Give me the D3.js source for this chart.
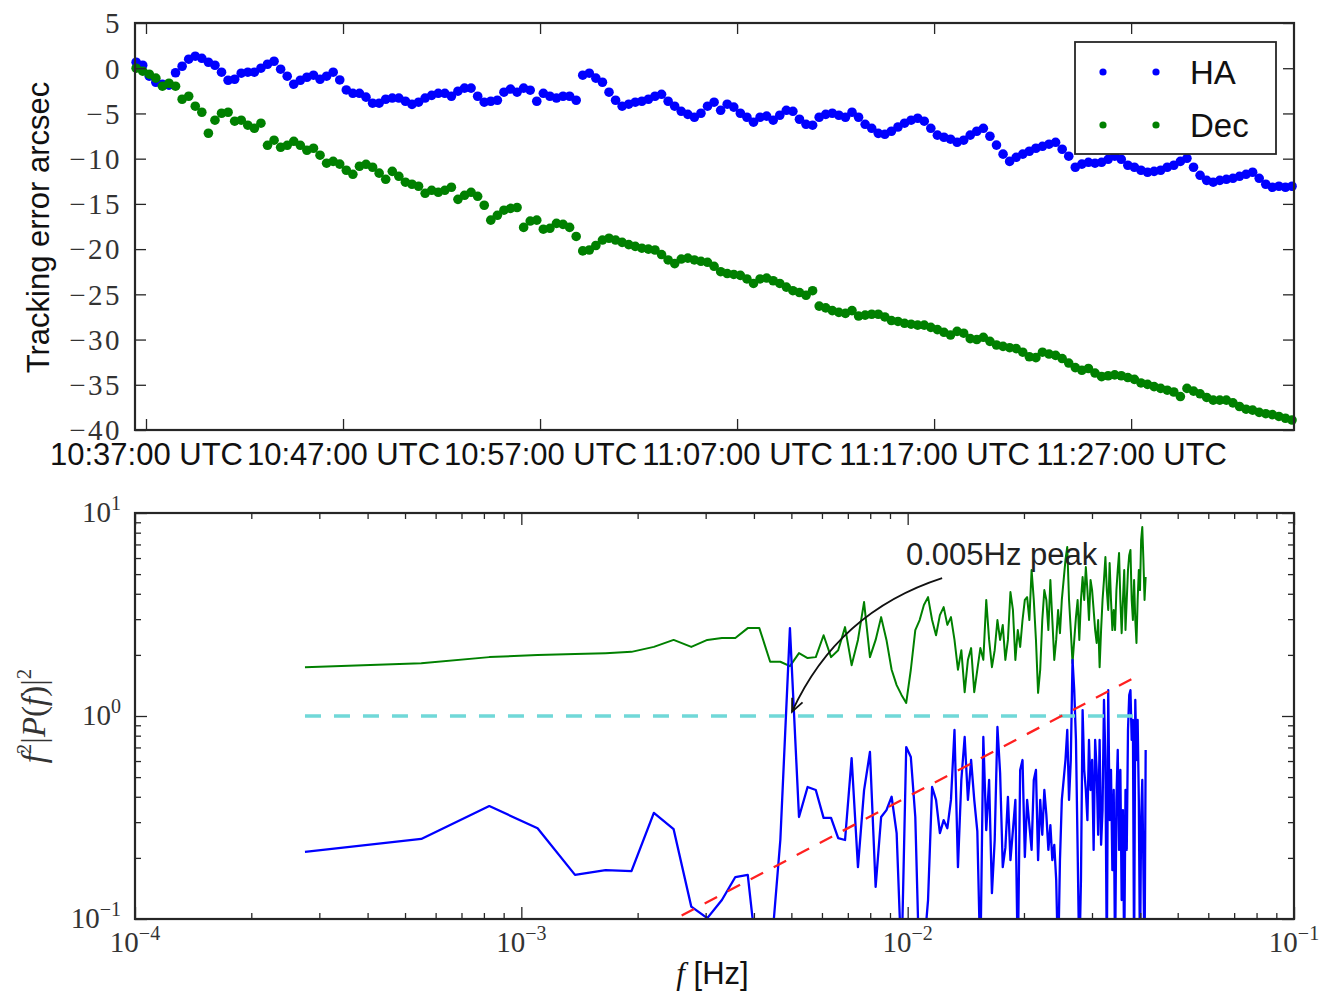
<!DOCTYPE html>
<html><head><meta charset="utf-8">
<script src="https://cdn.jsdelivr.net/npm/d3@7"></script>
<style>
body{margin:0;background:#fff;}
svg{display:block;}
</style></head><body>
<svg id="chart" width="1337" height="993"></svg>
<script>
// ---------------- DATA ----------------
// Top panel: tracking error (arcsec), sampled every 20 s starting 10:36:30 UTC
const sampleStart = "10:36:30";
const sampleStepSec = 20;
const timeDomain = ["10:36:26.5", "11:35:16"];
const timeTicks = ["10:37:00", "10:47:00", "10:57:00", "11:07:00", "11:17:00", "11:27:00"];
const errorTicks = [5, 0, -5, -10, -15, -20, -25, -30, -35, -40];
const seriesNames = ["HA", "Dec"];

const haValues = [
 0.66, 0.33, -0.88, -1.55, -1.77, -1.88, -0.5, 0.22, 1.0, 1.33,
 1.1, 0.66, 0.33, -0.44, -1.33, -1.22, -0.55, -0.44, -0.44, 0.0,
 0.44, 0.77, -0.11, -0.88, -1.77, -1.33, -1.0, -0.77, -1.22, -0.88,
 -0.44, -1.3, -2.4, -2.77, -2.77, -3.2, -3.87, -3.87, -3.43, -3.3,
 -3.3, -3.65, -4.0, -3.76, -3.3, -3.0, -2.77, -2.77, -3.1, -2.54,
 -2.2, -2.2, -3.1, -3.76, -3.65, -3.54, -2.65, -2.3, -2.65, -2.2,
 -2.43, -3.65, -2.77, -3.1, -3.3, -3.1, -3.1, -3.54, -0.77, -0.55,
 -1.1, -1.55, -2.65, -3.54, -4.2, -3.98, -3.76, -3.65, -3.43, -3.1,
 -2.88, -3.65, -4.2, -4.76, -5.1, -5.42, -4.98, -4.2, -3.76, -4.65,
 -3.98, -4.3, -4.98, -5.42, -5.97, -5.42, -5.3, -5.75, -5.2, -4.65,
 -4.76, -5.64, -6.2, -6.3, -5.42, -5.1, -4.98, -5.2, -5.42, -4.87,
 -5.42, -6.2, -6.64, -7.2, -7.3, -6.97, -6.5, -6.08, -5.75, -5.53,
 -5.86, -6.64, -7.4, -7.63, -7.85, -8.19, -7.96, -7.4, -6.97, -6.64,
 -7.52, -8.5, -9.5, -10.3, -9.85, -9.5, -9.18, -8.85, -8.63, -8.4,
 -8.19, -8.96, -9.73, -10.95, -10.6, -10.4, -10.5, -10.4, -10.07, -9.73,
 -10.07, -10.73, -10.95, -11.28, -11.5, -11.4, -11.28, -10.95, -10.73, -10.3,
 -9.96, -10.95, -11.84, -12.4, -12.6, -12.4, -12.28, -12.17, -11.95, -11.73,
 -11.5, -12.17, -12.83, -13.16, -13.05, -13.16, -13.05
];
const decValues = [
 0.0, -0.33, -0.66, -1.1, -1.99, -1.66, -1.99, -3.43, -3.1, -4.2,
 -4.87, -7.19, -5.75, -4.98, -4.87, -5.86, -5.75, -6.3, -6.64, -6.08,
 -8.52, -7.96, -8.74, -8.52, -8.08, -8.52, -9.07, -8.85, -9.62, -10.5,
 -10.3, -10.6, -11.28, -11.73, -10.84, -10.62, -10.95, -11.6, -12.28, -11.4,
 -11.95, -12.6, -12.83, -13.05, -13.83, -13.5, -13.72, -13.5, -13.16, -14.5,
 -14.05, -13.72, -14.16, -15.15, -16.8, -16.26, -15.7, -15.5, -15.4, -17.6,
 -16.9, -16.8, -17.8, -17.7, -17.15, -17.26, -17.6, -18.6, -20.2, -20.1,
 -19.6, -19.0, -18.8, -19.0, -19.25, -19.5, -19.7, -19.9, -20.0, -20.1,
 -20.6, -21.2, -21.6, -21.1, -21.0, -21.2, -21.35, -21.46, -21.9, -22.5,
 -22.7, -22.8, -22.9, -23.3, -23.8, -23.3, -23.2, -23.5, -23.8, -24.2,
 -24.6, -24.8, -25.1, -24.6, -26.3, -26.5, -26.8, -27.0, -27.1, -26.8,
 -27.4, -27.3, -27.2, -27.2, -27.5, -27.9, -28.0, -28.2, -28.3, -28.4,
 -28.4, -28.65, -28.9, -29.2, -29.5, -29.1, -29.3, -29.9, -30.0, -29.75,
 -30.2, -30.6, -30.75, -30.9, -31.0, -31.4, -31.9, -32.0, -31.4, -31.6,
 -31.75, -32.1, -32.6, -33.1, -33.4, -33.2, -33.7, -34.1, -34.0, -33.9,
 -34.0, -34.2, -34.4, -34.8, -34.95, -35.2, -35.4, -35.6, -35.8, -36.3,
 -35.4, -35.7, -36.0, -36.4, -36.7, -36.7, -36.7, -37.0, -37.4, -37.7,
 -37.8, -38.05, -38.2, -38.3, -38.5, -38.7, -38.9
];

// Bottom panel: f^2 |P(f)|^2 at frequencies k * freqStep (k = 1..150)
const freqStep = 2.754e-4;
const freqDomain = [1e-4, 1e-1];
const powerDomain = [1e-1, 1e1];
const haPower = [
 0.214, 0.248, 0.36, 0.28, 0.165, 0.174, 0.172, 0.333, 0.277, 0.115,
 0.101, 0.124, 0.161, 0.165, 0.05, 0.06, 0.245, 2.71, 0.318, 0.447,
 0.432, 0.315, 0.315, 0.25, 0.245, 0.62, 0.18, 0.43, 0.665, 0.144,
 0.318, 0.344, 0.4, 0.265, 0.06, 0.703, 0.628, 0.318, 0.05, 0.07,
 0.124, 0.447, 0.386, 0.265, 0.307, 0.28, 0.386, 0.853, 0.18, 0.484,
 0.788, 0.386, 0.607, 0.386, 0.27, 0.06, 0.788, 0.274, 0.484, 0.134,
 0.245, 0.883, 0.524, 0.18, 0.224, 0.4, 0.195, 0.274, 0.386, 0.06,
 0.542, 0.607, 0.202, 0.386, 0.29, 0.219, 0.484, 0.542, 0.195, 0.386,
 0.26, 0.432, 0.325, 0.219, 0.29, 0.195, 0.232, 0.156, 0.06, 0.195,
 0.386, 0.484, 0.607, 0.853, 0.386, 0.607, 1.89, 1.34, 0.762, 0.219,
 0.06, 0.156, 1.07, 0.542, 0.432, 0.307, 0.762, 0.432, 0.607, 0.219,
 0.762, 0.542, 0.26, 0.762, 0.232, 0.344, 1.2, 0.607, 0.06, 1.34,
 0.307, 0.542, 0.174, 0.432, 0.06, 0.386, 0.68, 0.219, 0.542, 0.124,
 0.344, 0.06, 0.432, 0.219, 0.853, 1.27, 1.34, 0.762, 0.956, 0.06,
 1.2, 0.607, 0.956, 0.386, 0.06, 0.307, 0.484, 0.174, 0.06, 0.68
];
const decPower = [
 1.74, 1.82, 1.95, 2.0, 2.02, 2.04, 2.07, 2.19, 2.37, 2.19,
 2.37, 2.42, 2.42, 2.71, 2.71, 1.85, 1.85, 1.76, 2.04, 1.93,
 1.95, 2.5, 1.95, 2.11, 2.74, 1.78, 2.37, 3.64, 1.95, 2.37,
 3.07, 2.37, 1.69, 1.42, 1.27, 1.16, 1.69, 2.65, 2.97, 3.52,
 3.85, 2.97, 2.5, 3.14, 3.44, 2.81, 3.07, 2.37, 1.69, 2.11,
 1.31, 1.89, 2.16, 1.31, 1.69, 2.16, 1.89, 3.73, 2.37, 1.74,
 2.11, 2.97, 2.37, 2.81, 1.89, 2.37, 4.08, 3.33, 1.89, 2.65,
 2.19, 2.97, 3.73, 3.85, 2.97, 5.24, 3.73, 2.37, 1.3, 1.69,
 2.97, 4.17, 3.73, 2.65, 4.68, 2.97, 1.89, 2.37, 3.33, 2.56,
 3.73, 4.68, 5.87, 6.8, 3.73, 2.65, 1.82, 2.37, 3.07, 3.73,
 2.37, 3.73, 4.84, 3.73, 5.42, 4.17, 2.97, 4.68, 4.17, 3.33,
 2.65, 2.29, 2.97, 1.74, 2.65, 3.73, 4.68, 6.07, 4.17, 3.33,
 5.67, 3.73, 2.65, 3.33, 2.65, 4.17, 5.24, 6.35, 3.73, 2.56,
 3.73, 5.24, 2.65, 3.73, 5.24, 6.2, 6.57, 3.73, 2.97, 4.68,
 2.97, 2.29, 3.73, 5.24, 4.17, 7.36, 8.53, 5.87, 3.73, 4.84
];
const unityLineF = [2.754e-4, 0.0385];
const unityLineV = [1, 1];
const slopeLineF = [0.0026, 0.040];
const slopeLineV = [0.104, 1.6];
const annotText = "0.005Hz peak";
const annotTextAt = [0.0099, 5.55];
const annotArrowFrom = [0.01228, 4.78];
const annotArrowTo = [0.00502, 1.05];

// ---------------- DRAWING ----------------
const svg = d3.select("#chart");
const SANS = "'Liberation Sans', Arial, Helvetica, sans-serif";
const SERIF = "'Liberation Serif', 'DejaVu Serif', serif";
const FRAME = "#262626";
const parseT = s => { const p = s.split(":").map(Number); return new Date(Date.UTC(2016,0,1,p[0],p[1],0) + p[2]*1000); };

const P1 = {l:135, r:1294, t:23, b:430};
const P2 = {l:135, r:1294, t:513, b:919};

// ---- top panel ----
const x1 = d3.scaleUtc().domain(timeDomain.map(parseT)).range([P1.l, P1.r]);
const y1 = d3.scaleLinear().domain([-40, 5]).range([P1.b, P1.t]);
const t0 = parseT(sampleStart).getTime();
const tAt = i => new Date(t0 + i*sampleStepSec*1000);

const g1 = svg.append("g");
g1.append("rect").attr("x",P1.l).attr("y",P1.t).attr("width",P1.r-P1.l).attr("height",P1.b-P1.t).attr("fill","#fff");

const DOT_R = 4.8;
const dotsG = g1.append("g");
dotsG.selectAll("circle.ha").data(haValues).join("circle").attr("class","ha")
  .attr("cx",(d,i)=>x1(tAt(i))).attr("cy",d=>y1(d)).attr("r",DOT_R).attr("fill","#0000ff");
dotsG.selectAll("circle.dec").data(decValues).join("circle").attr("class","dec")
  .attr("cx",(d,i)=>x1(tAt(i))).attr("cy",d=>y1(d)).attr("r",DOT_R).attr("fill","#008000");

const tickVals1 = timeTicks.map(parseT);
function styleAxis(g){ g.select(".domain").remove(); g.selectAll(".tick line").attr("stroke",FRAME).attr("stroke-width",1.3); }
g1.append("g").attr("transform",`translate(0,${P1.b})`)
  .call(d3.axisBottom(x1).tickValues(tickVals1).tickSize(-11).tickPadding(14).tickFormat(d=>d3.utcFormat("%H:%M:%S")(d)+" UTC"))
  .call(styleAxis)
  .call(g=>g.selectAll("text").attr("font-family",SANS).attr("font-size",31).attr("fill","#111").attr("dy",0).attr("y",35));
g1.append("g").attr("transform",`translate(0,${P1.t})`)
  .call(d3.axisTop(x1).tickValues(tickVals1).tickSize(-11).tickFormat("")).call(styleAxis);
g1.append("g").attr("transform",`translate(${P1.l},0)`)
  .call(d3.axisLeft(y1).tickValues(errorTicks).tickSize(-11).tickPadding(14).tickFormat(d=>d<0?"\u2212"+(-d):String(d)))
  .call(styleAxis)
  .call(g=>g.selectAll("text").attr("font-family",SERIF).attr("font-size",29).attr("letter-spacing",2.5)
    .attr("fill","#333").attr("x",-13).attr("dy","0.34em"));
g1.append("g").attr("transform",`translate(${P1.r},0)`)
  .call(d3.axisRight(y1).tickValues(errorTicks).tickSize(-11).tickFormat("")).call(styleAxis);
g1.append("rect").attr("x",P1.l).attr("y",P1.t).attr("width",P1.r-P1.l).attr("height",P1.b-P1.t)
  .attr("fill","none").attr("stroke",FRAME).attr("stroke-width",2.2);

g1.append("text").attr("transform",`translate(49,${(P1.t+P1.b)/2+1}) rotate(-90)`)
  .attr("text-anchor","middle").attr("font-family",SANS).attr("font-size",31).attr("fill","#111")
  .text("Tracking error arcsec");

// legend
const lg = g1.append("g");
lg.append("rect").attr("x",1075).attr("y",42).attr("width",201).attr("height",112)
  .attr("fill","#fff").attr("stroke",FRAME).attr("stroke-width",1.8);
const legColors = ["#0000ff","#008000"];
seriesNames.forEach((name,j)=>{
  const cy = 72 + j*53;
  [1103,1156].forEach(cx=>lg.append("circle").attr("cx",cx).attr("cy",cy).attr("r",3.6).attr("fill",legColors[j]));
  lg.append("text").attr("x",1190).attr("y",cy+12).attr("font-family",SANS).attr("font-size",33).attr("fill","#111").text(name);
});

// ---- bottom panel ----
const x2 = d3.scaleLog().domain(freqDomain).range([P2.l, P2.r]);
const y2 = d3.scaleLog().domain(powerDomain).range([P2.b, P2.t]);
const g2 = svg.append("g");
svg.append("defs").append("clipPath").attr("id","clip2").append("rect")
  .attr("x",P2.l).attr("y",P2.t).attr("width",P2.r-P2.l).attr("height",P2.b-P2.t);
const plot2 = g2.append("g").attr("clip-path","url(#clip2)");
const freqs = d3.range(1, haPower.length+1).map(k=>k*freqStep);
const line2 = d3.line().x(d=>x2(d[0])).y(d=>y2(d[1]));

plot2.append("path").datum(freqs.map((f,i)=>[f,decPower[i]])).attr("d",line2)
  .attr("fill","none").attr("stroke","#008000").attr("stroke-width",2).attr("stroke-linejoin","round");
plot2.append("path").datum(freqs.map((f,i)=>[f,haPower[i]])).attr("d",line2)
  .attr("fill","none").attr("stroke","#0000ff").attr("stroke-width",2.3).attr("stroke-linejoin","round");
plot2.append("path").datum(unityLineF.map((f,i)=>[f,unityLineV[i]])).attr("d",line2)
  .attr("fill","none").attr("stroke","#70d8d8").attr("stroke-width",3.4).attr("stroke-dasharray","16,13");
plot2.append("path").datum(slopeLineF.map((f,i)=>[f,slopeLineV[i]])).attr("d",line2)
  .attr("fill","none").attr("stroke","#ff2020").attr("stroke-width",2.3).attr("stroke-dasharray","14,12");

// annotation
const ax0 = x2(annotArrowFrom[0]), ay0 = y2(annotArrowFrom[1]);
const ax1 = x2(annotArrowTo[0]), ay1 = y2(annotArrowTo[1]);
const mx = (ax0+ax1)/2, my = (ay0+ay1)/2;
const rad = 0.22, dx = ax1-ax0, dy = ay1-ay0;
const cx = mx - rad*dy, cy = my + rad*dx;
g2.append("path").attr("d",`M${ax0},${ay0} Q${cx},${cy} ${ax1},${ay1}`)
  .attr("fill","none").attr("stroke","#111").attr("stroke-width",1.8);
const ang = Math.atan2(ay1-cy, ax1-cx);
const hl = 14, ha = 0.42;
g2.append("path").attr("d",`M${ax1-hl*Math.cos(ang-ha)},${ay1-hl*Math.sin(ang-ha)} L${ax1},${ay1} L${ax1-hl*Math.cos(ang+ha)},${ay1-hl*Math.sin(ang+ha)}`)
  .attr("fill","none").attr("stroke","#111").attr("stroke-width",1.8);
g2.append("text").attr("x",x2(annotTextAt[0])).attr("y",y2(annotTextAt[1]))
  .attr("font-family",SANS).attr("font-size",31).attr("fill","#222").text(annotText);

// ticks
const xMajor2 = [1e-4,1e-3,1e-2,1e-1];
const yMajor2 = [1e-1,1e0,1e1];
const isMajor = v => Math.abs(Math.log10(v) - Math.round(Math.log10(v))) < 1e-9;
const xMinor2 = x2.ticks().filter(v=>!isMajor(v));
const yMinor2 = y2.ticks().filter(v=>!isMajor(v));
function ticks2(axisFn, scale, pos, vals, size){
  g2.append("g").attr("transform",pos)
    .call(axisFn(scale).tickValues(vals).tickSize(size).tickFormat("")).call(styleAxis);
}
ticks2(d3.axisBottom, x2, `translate(0,${P2.b})`, xMajor2, -12);
ticks2(d3.axisBottom, x2, `translate(0,${P2.b})`, xMinor2, -6);
ticks2(d3.axisTop, x2, `translate(0,${P2.t})`, xMajor2, -12);
ticks2(d3.axisTop, x2, `translate(0,${P2.t})`, xMinor2, -6);
ticks2(d3.axisLeft, y2, `translate(${P2.l},0)`, yMajor2, -12);
ticks2(d3.axisLeft, y2, `translate(${P2.l},0)`, yMinor2, -6);
ticks2(d3.axisRight, y2, `translate(${P2.r},0)`, yMajor2, -12);
ticks2(d3.axisRight, y2, `translate(${P2.r},0)`, yMinor2, -6);
g2.append("rect").attr("x",P2.l).attr("y",P2.t).attr("width",P2.r-P2.l).attr("height",P2.b-P2.t)
  .attr("fill","none").attr("stroke",FRAME).attr("stroke-width",2.2);

function powLabel(sel, v){
  const e = Math.round(Math.log10(v));
  sel.append("tspan").attr("font-size",29).text("10");
  sel.append("tspan").attr("font-size",20).attr("dy",-12).text(e<0?"\u2212"+(-e):String(e));
}
xMajor2.forEach(v=>{
  const t = g2.append("text").attr("x",x2(v)).attr("y",P2.b+33).attr("text-anchor","middle")
    .attr("font-family",SERIF).attr("fill","#333");
  powLabel(t,v);
});
yMajor2.forEach(v=>{
  const t = g2.append("text").attr("x",P2.l-14).attr("y",y2(v)+9).attr("text-anchor","end")
    .attr("font-family",SERIF).attr("fill","#333");
  powLabel(t,v);
});

// axis labels
const xl = g2.append("text").attr("x",(P2.l+P2.r)/2-2).attr("y",984).attr("text-anchor","middle").attr("fill","#111");
xl.append("tspan").attr("font-family",SERIF).attr("font-style","italic").attr("font-size",31).text("f");
xl.append("tspan").attr("font-family",SANS).attr("font-size",31).text(" [Hz]");

const yl = g2.append("text").attr("transform",`translate(45,${(P2.t+P2.b)/2}) rotate(-90)`)
  .attr("text-anchor","middle").attr("font-family",SERIF).attr("font-size",33).attr("fill","#333");
yl.append("tspan").attr("font-style","italic").text("f");
yl.append("tspan").attr("font-size",21).attr("dy",-14).text("2");
yl.append("tspan").attr("dy",14).text("|");
yl.append("tspan").attr("font-style","italic").text("P");
yl.append("tspan").text("(");
yl.append("tspan").attr("font-style","italic").text("f");
yl.append("tspan").text(")|");
yl.append("tspan").attr("font-size",21).attr("dy",-14).text("2");
</script>
</body></html>
